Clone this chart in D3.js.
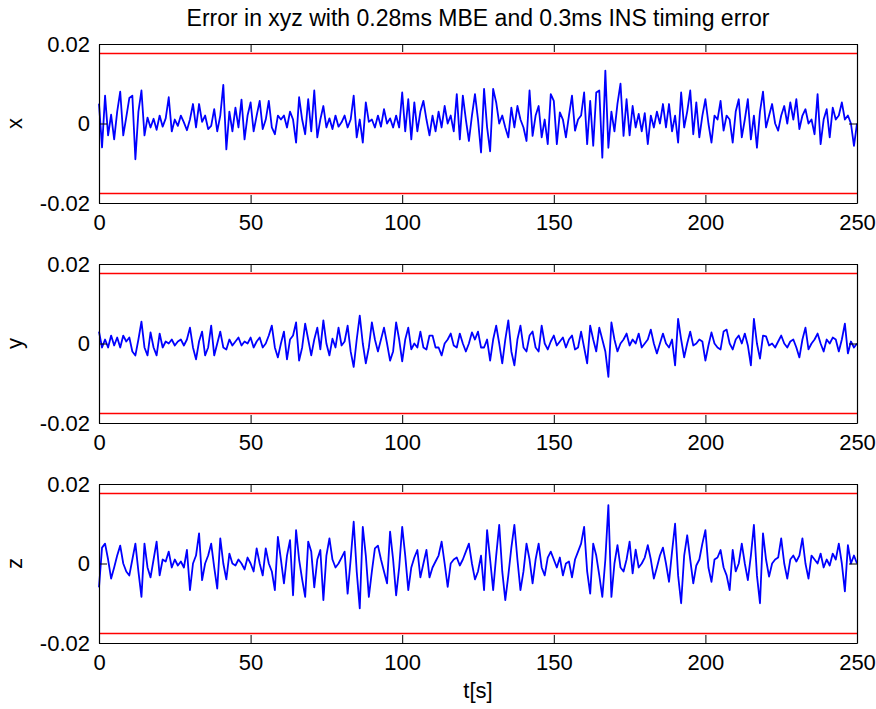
<!DOCTYPE html>
<html>
<head>
<meta charset="utf-8">
<script src="https://cdn.jsdelivr.net/npm/d3@7"></script>
<style>
  body { margin: 0; background: #fff; }
  svg { display: block; font-family: "Liberation Sans", Arial, sans-serif; }
  .tick line, .domain { stroke: #000; }
  .tick text { fill: #000; font-size: 22px; }
</style>
</head>
<body>
<svg width="876" height="709"></svg>
<script>
// errors, in units of 1e-3, one sample per second (t = 0..250)
const xErr = [
  5, -6, 7, -3, 2.2, -4, 3, 8, -3, 1.6,
  6.4, 7, -9, 3, 8.3, -3, 1.5, -1, 1.2, -1.6,
  2, -0.8, 1.3, 6.6, -2, 1, -0.6, 2, 0.3, -1.7,
  1, 4.9, -1, 4.9, 0.4, 2, -1.4, -0.6, 3.6, -2,
  2, 9.7, -6.5, 3, -2, 4, -1, 6, -4, 2,
  5.3, -2, 2, 5.7, -1.4, 1, 5.7, -1, -2.7, 2,
  1, 2, -1, 3, 1, -4.8, 6.6, 1, -2.7, 6.1,
  -2, 8.3, -3.5, 1, 4.4, -1, 1.3, -1.4, 2, -0.8,
  0.3, 2, -1, 1, 7, -3.5, 1, -4.8, 5.3, 0.4,
  1, -1, 2, -0.8, 3.6, 0, 1.3, -1, 2, -1,
  7.8, -2, 6.1, -4, 5.3, -2, 3, 5.7, 1, -3,
  2, -2, 3, -1, 4.4, 0, 2, -2, 7.4, -4,
  7, 1, -4.4, 2, 7.4, 1, -7.3, 8.7, -1, -7,
  8.7, 5.3, 0, 2, -1, -3.5, 4, -1, 4.4, 1,
  -1, -4.4, 8.3, -3.1, 2, 4.4, -3.5, 1, -5.2, 7.4,
  5.7, -5.2, 2.8, 1, -3.5, 2, 7, -1.8, 1, 2,
  7.8, -5.2, 5.7, -5.6, 7.8, 8.3, -8.6, 13.3, -6.1, 3,
  -2, 5, 10, -3.1, 6.1, -3, 4.4, -1, 2.4, -2,
  2.6, -5.2, 2, -1, 3, 0, 4.9, -1, 4.9, -2,
  2, -4.8, 7.8, -1, 3, 8.3, -2.7, 5.3, -3.5, 2,
  6.1, 0, -4.8, 2, 1, 5.7, -1.8, 2, 1, -4.8,
  3, 6.1, -3.5, 1, 6.1, -4, 2, -6.1, 3, 8,
  -1, 2, 4.9, 0, -1.8, 2, 4.4, 0, 5.3, 1,
  6.1, -1.4, 2, 3.6, 0, 1, -2.7, 7.4, -5.2, 1,
  3.6, -3.5, 4, 1, 2, 5.3, 1, 2, 0, -5.6,
  0
];
const yErr = [
  3, -1, 1, -1, 2, -0.5, 1.5, -1, 2, 0.5,
  1.5, -2, -3, 1, 5.5, -1, -3, 2.8, -1, -3,
  2.5, -1, 0.5, 0, 1, -0.5, 0.5, 1, -0.5, 1,
  4, -1, -4, 0.5, 3, -3, -1, 4.5, -3, 0,
  3, -1, -1.5, 1, -0.5, 0.5, 1.5, -0.5, 0.5, 0,
  1.5, -1, 0.5, 1.5, -1, 0, 2, 4.5, -1, -3.5,
  0, 3, -4, 1, 2, 5.3, -4.3, -1, 5, 1,
  -3, 1, 4, -1.5, 5.8, 0, -3, 1.2, -1, 4,
  -0.5, 0.5, 4.5, -2, -5.9, 1, 7, 0, -5, -1,
  5.3, 1, -2, 1, 4, 0, -4.3, -2, 5.3, 1,
  -4.5, 1, 4, -1.5, 0, -1, 3, -1, -1.5, 2,
  2, -1, -1, -3, 0, 1, 2.5, -0.5, -1, 2.5,
  0, -2, 0, 2.8, 1, 3, -1, -1, 1, -4.3,
  1, 4.5, 0, -5, 1, 5.8, -2, -5.5, 1, 4.5,
  -1, -2, 2, 3, -1, -2, 4.5, 0, -1.5, 0.5,
  2, -0.5, 0.5, 1.5, -1, 1, 2, -1.5, -1, 3,
  -1, -5, 4.5, 1, -2, 4, 1, -2, -8.4, 5.3,
  1, -2, 0, 1, 2.5, -0.5, 1, 0, 2.5, -1,
  0, 1, 3.5, 0, -2.5, 0, 2.5, 0, -1, 1,
  -5.5, 6.2, 1, -3.5, 0, 3, -0.5, 0, 1, 0.5,
  -4.3, -0.5, 2.8, 0, -1, -1.5, 3, 3.5, 0, -1.5,
  1, 2, 0, 2.5, -0.5, -5.5, 6.2, 0, -3.8, 2,
  1.8, -0.5, 0, -1, 0.5, 2, 0, -1, 0.5, 1,
  -1, -3.5, 1, 4, -1.5, 0, 1, 2.5, 0, -2,
  1, 0, 1.5, 1, -2, 1, 5, -2.5, 0.5, -1,
  0
];
const zErr = [
  -6, 4, 5, 1, -3.8, -1, 2, 4.5, 0, -2,
  -3, 1, 5, -2, -8.4, 5, -1, -3.5, 1, 5.5,
  -3, 1, 0.5, 3, -1, 1, -0.5, 0.5, -1, 3.4,
  -6.7, 0, 2, 7.6, -4.2, 0, 2, 5, -1, -6.3,
  6.3, 0, -4, 2.5, 0, -0.5, 1, 0, -1.5, 1.5,
  0, -2, 3.8, 0, -3, 3.8, 0, -2, -6.7, 6.7,
  1, -5, 2, 5.9, -8, 8.4, 1, -4, -8.4, 5.5,
  3, -6, 1, 3.4, -9.2, 2, 6.3, 1, -1, 0,
  1.5, 3, -7.6, 1, 10.5, -2, -11.3, 9.2, 2, -8.4,
  -2, 3.8, 4.5, 1, -2, -5, 8, 1, -8, -1,
  9.2, 2, -6.7, -1, 1.5, 3.4, -3.5, 0, 3.4, -3.5,
  -1, 0.5, 2, 5.5, 0, -5.9, 0, 1, 1.5, -0.5,
  1, 3, 5, 0, -4, -2, 2, -6.7, 8.4, 1,
  -6.7, 2, 9.7, -2, -9.2, -3, 4, 9.7, 1, -6.7,
  -2, 5, 1, -5, 1, 5, -1, -3, 1.5, 3,
  1, -1, 1.5, -3, 0, 0.5, -3.5, 1, 3, 5,
  9.2, -2, -7.6, 5, 2, -3, -8.4, 1, 14.7, -8.4,
  0, 4.6, -1, -2, 1, 5.5, -2.5, 3.5, -1, 0,
  1.5, 4.6, 1, -3.8, -1, 2, 4, 0, -4.6, 3,
  10, -3, -10, 2, 7.1, 1, -5, -0.5, 1, 5,
  8.4, -1, -4.6, 1, 1.5, 3.4, -1, -3, -6.7, 3.4,
  -2, 0, 5, 0, -4.2, 2, 9.7, -3, -10, 7.6,
  1, -3.3, 0, 1, 1.5, 6.3, 0, -3.8, 1, 2,
  0.5, 2, 6.3, 0, -3.8, 2, 1, 0, 2.5, -1,
  1, -0.5, 2.5, 1, 5, 0, -7, 4.6, 0, 2,
  0
];
const errLimit = 0.0176;            // red bound lines
const xTicks = [0, 50, 100, 150, 200, 250];
const yTicks = [-0.02, 0, 0.02];
const yTickLabels = ["-0.02", "0", "0.02"];
const panelNames = ["x", "y", "z"];
const title = "Error in xyz with 0.28ms MBE and 0.3ms INS timing error";
const xLabel = "t[s]";

const svg = d3.select("svg");
const left = 99, right = 857, panelH = 159;
const panelTops = [44, 264, 484];

const x = d3.scaleLinear().domain([0, 250]).range([left, right]);

const series = [xErr, yErr, zErr];

series.forEach(function(vals, k) {
    const top = panelTops[k], bottom = top + panelH;
    const y = d3.scaleLinear().domain([-0.02, 0.02]).range([bottom, top]);
    const g = svg.append("g");

    const line = d3.line()
        .x((d, i) => x(i))
        .y(d => y(d * 1e-3));

    // limit lines
    g.selectAll(".lim")
        .data([errLimit, -errLimit])
        .enter().append("line")
        .attr("x1", x(0)).attr("x2", x(250))
        .attr("y1", d => y(d)).attr("y2", d => y(d))
        .attr("stroke", "#ff0000")
        .attr("stroke-width", 1.6);

    g.append("path")
        .datum(vals)
        .attr("fill", "none")
        .attr("stroke", "#0000ff")
        .attr("stroke-width", 1.8)
        .attr("stroke-linejoin", "round")
        .attr("d", line);

    // axes, MATLAB style: ticks pointing in, box all round
    g.append("g")
        .attr("transform", `translate(0,${bottom})`)
        .call(d3.axisBottom(x).tickValues(xTicks).tickSizeInner(-8).tickSizeOuter(0).tickPadding(11));
    g.append("g")
        .attr("transform", `translate(0,${top})`)
        .call(d3.axisTop(x).tickValues(xTicks).tickSizeInner(-8).tickSizeOuter(0).tickFormat(""));
    g.append("g")
        .attr("transform", `translate(${left},0)`)
        .call(d3.axisLeft(y).tickValues(yTicks).tickSizeInner(-8).tickSizeOuter(0).tickPadding(9)
            .tickFormat((d, i) => yTickLabels[i]));
    g.append("g")
        .attr("transform", `translate(${right},0)`)
        .call(d3.axisRight(y).tickValues(yTicks).tickSizeInner(-8).tickSizeOuter(0).tickFormat(""));

    g.selectAll(".tick text").attr("font-family", null);
    g.selectAll(".domain").attr("stroke-width", 1.2);

    svg.append("text")
        .attr("transform", `translate(22,${y(0)}) rotate(-90)`)
        .attr("text-anchor", "middle")
        .attr("font-size", 22)
        .text(panelNames[k]);
});

svg.append("text")
    .attr("x", (left + right) / 2)
    .attr("y", 26)
    .attr("text-anchor", "middle")
    .attr("font-size", 23)
    .text(title);

svg.append("text")
    .attr("x", (left + right) / 2)
    .attr("y", 698)
    .attr("text-anchor", "middle")
    .attr("font-size", 22)
    .text(xLabel);
</script>
</body>
</html>
